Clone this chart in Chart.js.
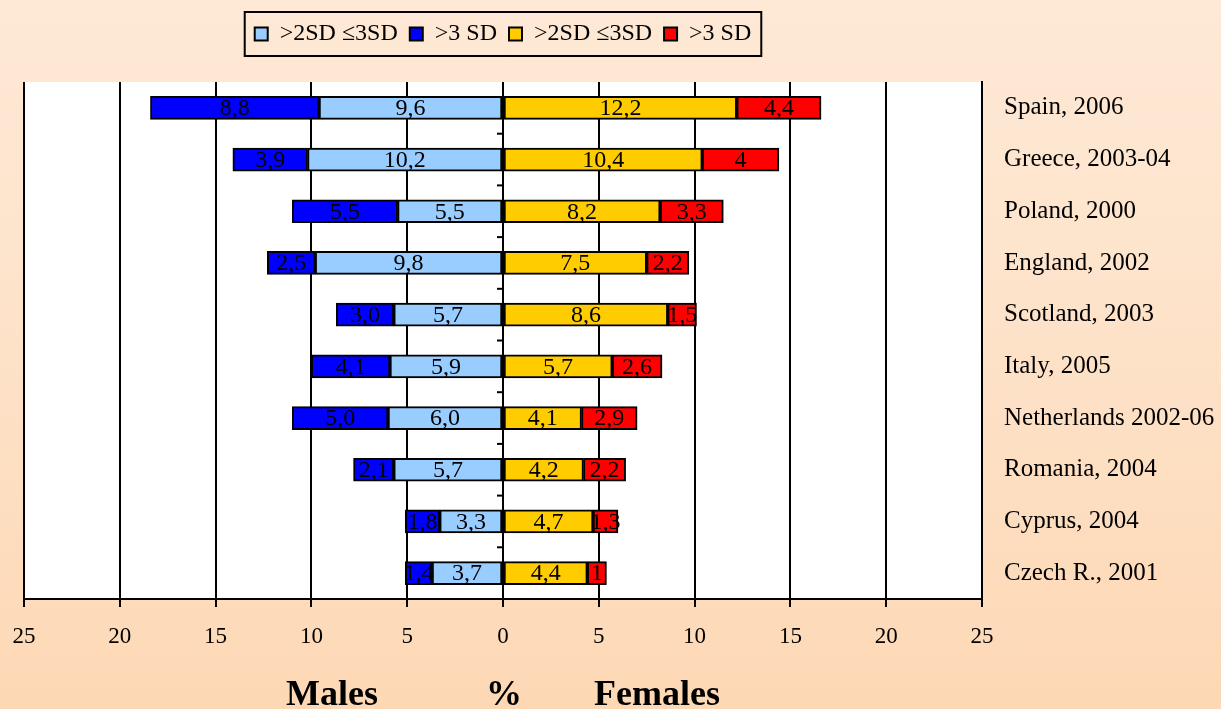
<!DOCTYPE html>
<html>
<head>
<meta charset="utf-8">
<script src="https://cdn.jsdelivr.net/npm/chart.js@4.4.1/dist/chart.umd.min.js"></script>
<style>
  html, body { margin: 0; padding: 0; }
  body {
    width: 1221px; height: 709px; overflow: hidden;
    background: linear-gradient(to bottom, #fee9d6 0%, #fde2c8 50%, #fdd8b5 100%);
  }
  #wrap { position: relative; width: 1221px; height: 709px; }
</style>
</head>
<body>
<div id="wrap"><canvas id="chart"></canvas></div>
<script>
const countries = ['Spain, 2006', 'Greece, 2003-04', 'Poland, 2000', 'England, 2002', 'Scotland, 2003',
    'Italy, 2005', 'Netherlands 2002-06', 'Romania, 2004', 'Cyprus, 2004', 'Czech R., 2001'];

// males (drawn to the left, so negative)
const males2to3 = [9.6, 10.2, 5.5, 9.8, 5.7, 5.9, 6.0, 5.7, 3.3, 3.7];
const malesOver3 = [8.8, 3.9, 5.5, 2.5, 3.0, 4.1, 5.0, 2.1, 1.8, 1.4];
// females
const females2to3 = [12.2, 10.4, 8.2, 7.5, 8.6, 5.7, 4.1, 4.2, 4.7, 4.4];
const femalesOver3 = [4.4, 4, 3.3, 2.2, 1.5, 2.6, 2.9, 2.2, 1.3, 1];

// labels as printed on the bars
const males2to3Text = ['9,6', '10,2', '5,5', '9,8', '5,7', '5,9', '6,0', '5,7', '3,3', '3,7'];
const malesOver3Text = ['8,8', '3,9', '5,5', '2,5', '3,0', '4,1', '5,0', '2,1', '1,8', '1,4'];
const females2to3Text = ['12,2', '10,4', '8,2', '7,5', '8,6', '5,7', '4,1', '4,2', '4,7', '4,4'];
const femalesOver3Text = ['4,4', '4', '3,3', '2,2', '1,5', '2,6', '2,9', '2,2', '1,3', '1'];

const xTicks = [-25, -20, -15, -10, -5, 0, 5, 10, 15, 20, 25];

const serif = '"Liberation Serif", "Times New Roman", serif';

const plotBackground = {
    id: 'plotBackground',
    beforeDraw(chart) {
        const {ctx, chartArea: a} = chart;
        ctx.save();
        ctx.fillStyle = '#ffffff';
        ctx.fillRect(a.left, a.top, a.right - a.left, a.bottom - a.top);
        ctx.restore();
    }
};

// small ticks on the zero line between categories, legend frame
const extras = {
    id: 'extras',
    beforeInit(chart) {
        const fit = chart.legend.fit;
        chart.legend.fit = function() {
            fit.call(this);
            this.height = 72;
        };
    },
    afterDraw(chart) {
        const {ctx} = chart;
        const x = chart.scales.x;
        const y = chart.scales.y;
        const x0 = x.getPixelForValue(0);
        ctx.save();
        ctx.strokeStyle = '#000';
        ctx.lineWidth = 2;
        for (let i = 1; i < countries.length; i++) {
            const yy = (y.getPixelForValue(i - 1) + y.getPixelForValue(i)) / 2;
            ctx.beginPath();
            ctx.moveTo(x0 - 6, yy);
            ctx.lineTo(x0, yy);
            ctx.stroke();
        }
        const boxes = chart.legend.legendHitBoxes;
        if (boxes && boxes.length) {
            const first = boxes[0];
            const last = boxes[boxes.length - 1];
            const w = last.left + last.width - first.left;
            ctx.strokeRect(first.left - 10, first.top - 10, w + 20, first.height + 20);
        }
        ctx.restore();
    }
};

const barLabels = {
    id: 'barLabels',
    afterDatasetsDraw(chart) {
        const {ctx} = chart;
        ctx.save();
        ctx.font = '24px ' + serif;
        ctx.fillStyle = '#000';
        ctx.textAlign = 'center';
        ctx.textBaseline = 'middle';
        chart.data.datasets.forEach((ds, i) => {
            const meta = chart.getDatasetMeta(i);
            meta.data.forEach((bar, j) => {
                const p = bar.getProps(['x', 'y', 'base'], true);
                ctx.fillText(ds.texts[j], (p.x + p.base) / 2, p.y + 1);
            });
        });
        ctx.restore();
    }
};

new Chart(document.getElementById('chart'), {
    type: 'bar',
    data: {
        labels: countries,
        datasets: [
            {
                label: '>2SD \u22643SD',
                data: males2to3.map(v => -v),
                texts: males2to3Text,
                backgroundColor: '#99ccff'
            },
            {
                label: '>3 SD',
                data: malesOver3.map(v => -v),
                texts: malesOver3Text,
                backgroundColor: '#0000ff'
            },
            {
                label: '>2SD \u22643SD',
                data: females2to3,
                texts: females2to3Text,
                backgroundColor: '#ffcc00'
            },
            {
                label: '>3 SD',
                data: femalesOver3,
                texts: femalesOver3Text,
                backgroundColor: '#ff0000'
            }
        ]
    },
    options: {
        indexAxis: 'y',
        responsive: true,
        maintainAspectRatio: false,
        animation: false,
        datasets: {
            bar: {
                borderColor: '#000',
                borderWidth: 2,
                borderSkipped: false,
                barThickness: 23
            }
        },
        layout: {
            padding: {left: 24, right: 0, top: 10, bottom: 0}
        },
        scales: {
            x: {
                stacked: true,
                min: -25,
                max: 25,
                afterFit(scale) {
                    scale.height = 110;
                    scale.paddingLeft = 0;
                    scale.paddingRight = 0;
                },
                afterBuildTicks(scale) { scale.ticks = xTicks.map(v => ({value: v})); },
                grid: {
                    color: '#000',
                    lineWidth: 2,
                    tickColor: '#000',
                    tickLength: 8
                },
                border: {color: '#000', width: 2},
                ticks: {
                    color: '#000',
                    padding: 16,
                    font: {family: serif, size: 23},
                    callback: v => String(Math.abs(v))
                },
                title: {
                    display: true,
                    text: 'Males            %        Females',
                    color: '#000',
                    font: {family: serif, size: 36, weight: 'bold', lineHeight: 1},
                    padding: {top: 0, bottom: -5}
                }
            },
            y: {
                stacked: true,
                position: 'right',
                afterFit(scale) { scale.width = 239; },
                grid: {display: false, drawTicks: false},
                border: {display: true, color: '#000', width: 2},
                ticks: {
                    color: '#000',
                    padding: 22,
                    font: {family: serif, size: 25}
                }
            }
        },
        plugins: {
            legend: {
                position: 'top',
                fullSize: false,
                labels: {
                    color: '#000',
                    boxWidth: 13,
                    boxHeight: 13,
                    padding: 12,
                    font: {family: serif, size: 24}
                }
            },
            tooltip: {enabled: false}
        }
    },
    plugins: [plotBackground, extras, barLabels]
});
</script>
</body>
</html>
